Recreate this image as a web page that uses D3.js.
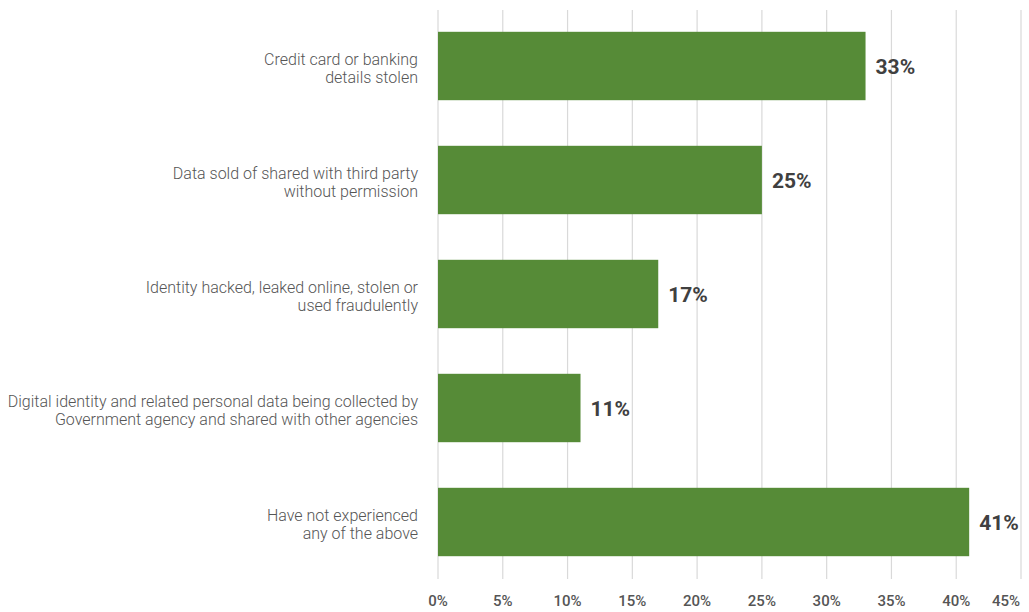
<!DOCTYPE html>
<html><head><meta charset="utf-8">
<script src="https://cdn.jsdelivr.net/npm/d3@7"></script>
<style>body{margin:0;background:#fff}svg{display:block}</style>
</head><body>
<svg id="c" width="1029" height="612"></svg>
<script>
const categories = [
  ["Credit card or banking", "details stolen"],
  ["Data sold of shared with third party", "without permission"],
  ["Identity hacked, leaked online, stolen or", "used fraudulently"],
  ["Digital identity and related personal data being collected by", "Government agency and shared with other agencies"],
  ["Have not experienced", "any of the above"]
];
const values = [33, 25, 17, 11, 41];
const ticks = [0, 5, 10, 15, 20, 25, 30, 35, 40, 45];

const svg = d3.select("#c");
const x = d3.scaleLinear().domain([0, 45]).range([438, 1021]);
const y = d3.scaleBand().domain(d3.range(values.length)).range([9, 579]).paddingInner(0.4).paddingOuter(0.2);

// gridlines
svg.append("g").selectAll("line").data(ticks).join("line")
  .attr("x1", d => x(d)).attr("x2", d => x(d))
  .attr("y1", 10).attr("y2", 579)
  .attr("stroke", "#d9d9d9").attr("stroke-width", 1.2);

// tick labels
svg.append("g").selectAll("text").data(ticks).join("text")
  .attr("x", (d, i) => i === ticks.length - 1 ? 1020 : x(d)).attr("y", 606)
  .attr("text-anchor", (d, i) => i === ticks.length - 1 ? "end" : "middle")
  .attr("font-family", "Roboto").attr("font-weight", 500).attr("font-size", 15)
  .attr("fill", "#555")
  .text(d => d + "%");

// bars
svg.append("g").selectAll("rect").data(values).join("rect")
  .attr("x", x(0)).attr("y", (d, i) => y(i))
  .attr("width", d => x(d) - x(0)).attr("height", y.bandwidth())
  .attr("fill", "#568b37");

// value labels
svg.append("g").selectAll("text").data(values).join("text")
  .attr("x", d => x(d) + 10).attr("y", (d, i) => y(i) + y.bandwidth() / 2 + 8)
  .attr("font-family", "Roboto").attr("font-weight", 700).attr("font-size", 21)
  .attr("fill", "#404040")
  .text(d => d + "%");

// category labels
const cl = svg.append("g").selectAll("text").data(categories).join("text")
  .attr("x", 418)
  .attr("y", (d, i) => y(i) + y.bandwidth() / 2 - 1)
  .attr("text-anchor", "end")
  .attr("font-family", "Roboto").attr("font-weight", 300).attr("font-size", 16)
  .attr("fill", "#555");
cl.selectAll("tspan").data(d => d).join("tspan")
  .attr("x", 418).attr("dy", (d, j) => j === 0 ? 0 : 18)
  .text(d => d);
</script>
</body></html>
